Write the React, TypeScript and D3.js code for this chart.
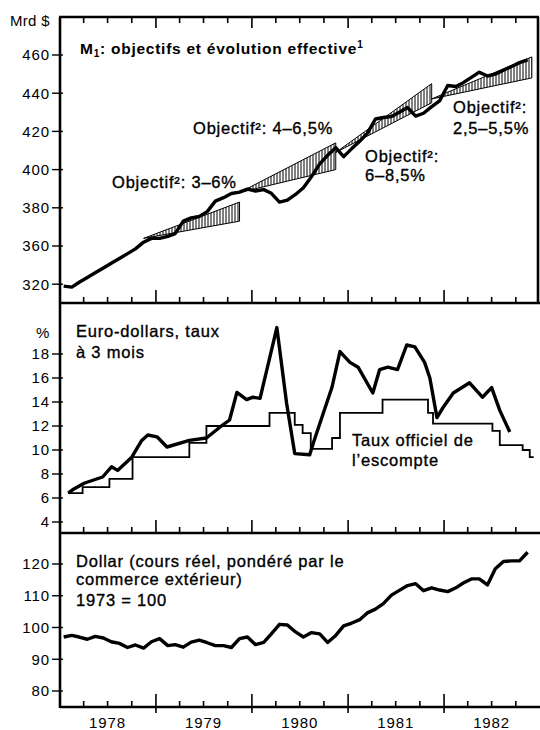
import React from "react";
import * as d3 from "d3";

// years shown under the bottom panel
const years = ["1978", "1979", "1980", "1981", "1982"];

// M1, monthly (Mrd $), first value Jan 1978
const m1Start = "1978-01-15";
const m1Values = [
  339, 338.5, 341, 343.5, 346, 348.5, 351, 353.5, 356, 358.5, 362, 364,
  364, 365, 366.5, 373, 374.7, 375.5, 378, 383.5, 385.3, 387.5, 388.2, 389.8,
  388.8, 389.5, 387.6, 383, 384, 387, 390.5, 396.4, 403, 407.5, 411.5, 406.8,
  411, 415, 419, 426.5, 427.3, 427.8, 430, 432.5, 428, 429.5, 433, 436,
  444, 443.5, 445.5, 448.3, 451, 449, 450, 452, 454, 456, 457.5,
];
const m1Ticks = [340, 360, 380, 400, 420, 440, 460];
const m1TickLabels = ["320", "360", "380", "400", "420", "440", "460"];

// target cones
const bandStarts = ["1978-11-15", "1979-11-15", "1980-11-15", "1981-11-15"];
const bandEnds = ["1979-11-15", "1980-11-15", "1981-11-15", "1982-12-01"];
const bandBase = [364, 388, 409, 437];
const bandLow = [373, 400, 435, 448];
const bandHigh = [383, 414, 445, 459];

// euro-dollar 3 month rate (%)
const euroDates = [
  "1978-02-01", "1978-02-19", "1978-04-05", "1978-06-12", "1978-07-16", "1978-08-08",
  "1978-10-01", "1978-11-08", "1978-12-01", "1979-01-05", "1979-02-12", "1979-05-08",
  "1979-07-12", "1979-09-01", "1979-10-08", "1979-11-05", "1979-12-12", "1980-01-05",
  "1980-02-01", "1980-04-05", "1980-05-12", "1980-06-12", "1980-08-08", "1980-08-22",
  "1980-11-01", "1980-12-01", "1981-01-08", "1981-02-08", "1981-04-05", "1981-05-01",
  "1981-06-01", "1981-07-08", "1981-08-12", "1981-09-12", "1981-10-19", "1981-11-08",
  "1981-12-05", "1981-12-27", "1982-02-05", "1982-04-08", "1982-05-27", "1982-07-01",
  "1982-08-01", "1982-09-08",
];
const euroValues = [
  6.4, 6.7, 7.25, 7.75, 8.6, 8.3,
  9.4, 10.8, 11.25, 11.1, 10.25, 10.8,
  11.0, 11.9, 12.5, 14.8, 14.2, 14.4,
  14.3, 20.2, 13.9, 9.7, 9.6, 10.6,
  15.25, 18.2, 17.3, 16.9, 14.75, 16.7,
  16.9, 16.7, 18.75, 18.6, 17.3, 16.0,
  12.7, 13.5, 14.75, 15.6, 14.4, 15.2,
  13.3, 11.5,
];

// official discount rate (%), step changes
const rateDates = [
  "1978-02-01", "1978-03-28", "1978-07-08", "1978-10-04", "1979-05-08", "1979-07-12",
  "1980-03-08", "1980-06-12", "1980-07-12", "1980-08-12", "1980-11-01", "1980-12-01",
  "1981-05-12", "1981-11-01", "1981-11-20", "1982-07-04", "1982-08-01", "1982-10-27",
  "1982-11-23", "1982-12-08",
];
const rateValues = [
  6.4, 6.9, 7.6, 9.4, 10.6, 12.0,
  13.1, 12.1, 11.4, 10.1, 11.0, 13.1,
  14.2, 13.1, 12.2, 11.6, 10.4, 10.0,
  9.4, 9.4,
];
const rateTicks = [4, 6, 8, 10, 12, 14, 16, 18];

// dollar, real trade weighted, 1973 = 100, monthly
const dollarStart = "1978-01-15";
const dollarValues = [
  97.0, 97.5, 97.0, 96.3, 97.2, 96.7, 95.5, 95.0, 93.7, 94.5, 93.5, 95.5,
  96.5, 94.3, 94.6, 93.8, 95.4, 96.0, 95.2, 94.3, 94.3, 93.7, 96.5, 97.0,
  94.6, 95.3, 98.0, 101.0, 100.8, 98.6, 97.0, 98.4, 98.0, 95.3, 97.5, 100.5,
  101.4, 102.5, 104.6, 105.8, 107.5, 110.2, 111.7, 113.2, 113.8, 111.6, 112.5, 111.8,
  111.3, 112.5, 114.0, 115.3, 115.3, 113.4, 118.5, 120.8, 121.0, 121.0, 123.7,
];
const dollarTicks = [80, 90, 100, 110, 120];

const parse = d3.timeParse("%Y-%m-%d");
const monthly = (start: string, vals: number[]) =>
  vals.map((v, i) => ({ d: d3.timeMonth.offset(parse(start)!, i), v }));

const W = 540;
const H = 730;
const left = 60;
const FONT = "'Liberation Sans', Arial, sans-serif";

const x = d3
  .scaleTime()
  .domain([parse("1978-01-01")!, parse("1983-01-01")!])
  .range([left, 540]);

const p1 = { top: 17, bottom: 303 };
const p2 = { top: 303, bottom: 533 };
const p3 = { top: 533, bottom: 707 };

const y1 = d3.scaleLinear().domain([360, 460]).range([246, 55]);
const y2 = d3.scaleLinear().domain([4, 18]).range([522, 354]);
const y3 = d3.scaleLinear().domain([80, 120]).range([691, 564]);

const quarterTicks = d3
  .timeMonth.every(3)!
  .range(parse("1978-02-01")!, parse("1982-12-31")!);
const isYear = (d: Date) => d.getMonth() === 0;

function BottomTicks({ y, below = 0 }: { y: number; below?: number }) {
  return (
    <g stroke="#000" strokeWidth={1.6}>
      {quarterTicks.map((d, i) => (
        <line
          key={i}
          x1={x(d)}
          x2={x(d)}
          y1={y + (isYear(d) ? below : 0)}
          y2={y - (isYear(d) ? 13 : 6)}
        />
      ))}
    </g>
  );
}

function YAxis({
  scale,
  ticks,
  labels,
}: {
  scale: d3.ScaleLinear<number, number>;
  ticks: number[];
  labels?: string[];
}) {
  return (
    <g>
      {ticks.map((t, i) => (
        <g key={t}>
          <line x1={52} x2={63} y1={scale(t)} y2={scale(t)} stroke="#000" strokeWidth={1.4} />
          <text
            x={50}
            y={scale(t)}
            dy="0.36em"
            textAnchor="end"
            fontSize={15}
            letterSpacing={0.9}
            fontFamily={FONT}
          >
            {labels ? labels[i] : String(t)}
          </text>
        </g>
      ))}
    </g>
  );
}

const label = {
  fontFamily: FONT,
  fontSize: 16.5,
  letterSpacing: 0.8,
  stroke: "#000",
  strokeWidth: 0.35,
} as const;

export default function App() {
  const m1 = monthly(m1Start, m1Values);
  const dollar = monthly(dollarStart, dollarValues);
  const euro = euroDates.map((s, i) => ({ d: parse(s)!, v: euroValues[i] }));
  const rate = rateDates.map((s, i) => ({ d: parse(s)!, v: rateValues[i] }));

  const lineM1 = d3.line<{ d: Date; v: number }>().x((p) => x(p.d)).y((p) => y1(p.v));
  const lineEuro = d3.line<{ d: Date; v: number }>().x((p) => x(p.d)).y((p) => y2(p.v));
  const lineRate = d3
    .line<{ d: Date; v: number }>()
    .x((p) => x(p.d))
    .y((p) => y2(p.v))
    .curve(d3.curveStepAfter);
  const lineDollar = d3.line<{ d: Date; v: number }>().x((p) => x(p.d)).y((p) => y3(p.v));

  const bands = bandStarts.map((s, i) => {
    const xs = x(parse(s)!);
    const xe = x(parse(bandEnds[i])!);
    return `M${xs},${y1(bandBase[i])}L${xe},${y1(bandHigh[i])}L${xe},${y1(bandLow[i])}Z`;
  });

  return (
    <div style={{ position: "absolute", left: 0, top: 0 }}>
      <svg width={W} height={H} style={{ display: "block", background: "#fff" }}>
        <defs>
          <pattern id="hatch" width={3} height={6} patternUnits="userSpaceOnUse">
            <line x1={1} x2={1} y1={0} y2={6} stroke="#000" strokeWidth={1} />
          </pattern>
        </defs>

        {/* frames */}
        <g stroke="#000" strokeWidth={2.6} fill="none">
          <line x1={left} x2={left} y1={p1.top} y2={p3.bottom + 1} />
          <line x1={left - 1} x2={539} y1={p1.top} y2={p1.top} />
          <line x1={538} x2={538} y1={p1.top} y2={p1.bottom} />
          <line x1={left} x2={540} y1={p1.bottom} y2={p1.bottom} />
          <line x1={left} x2={540} y1={p2.bottom} y2={p2.bottom} />
          <line x1={left} x2={540} y1={p3.bottom} y2={p3.bottom} />
        </g>

        {/* top ticks of first panel */}
        <g stroke="#000" strokeWidth={1.6}>
          {quarterTicks.map((d, i) => (
            <line key={i} x1={x(d)} x2={x(d)} y1={p1.top} y2={p1.top + (isYear(d) ? 11 : 6)} />
          ))}
        </g>
        <BottomTicks y={p1.bottom} />
        <BottomTicks y={p2.bottom} />
        <BottomTicks y={p3.bottom} below={6} />

        {/* panel 1 */}
        <text x={10} y={26} fontSize={15} fontFamily={FONT} letterSpacing={0.3}>
          Mrd $
        </text>
        <YAxis scale={y1} ticks={m1Ticks} labels={m1TickLabels} />
        {bands.map((b, i) => (
          <path key={i} d={b} fill="url(#hatch)" stroke="#000" strokeWidth={1} />
        ))}
        <path
          d={lineM1(m1)!}
          fill="none"
          stroke="#000"
          strokeWidth={3.4}
          strokeLinejoin="round"
        />
        <text x={80} y={54} fontFamily={FONT} fontSize={15.5} fontWeight="bold" letterSpacing={0.75}>
          M
          <tspan fontSize={10} dy={3}>1</tspan>
          <tspan dy={-3}>: objectifs et évolution effective</tspan>
          <tspan fontSize={10} dy={-6}>1</tspan>
        </text>
        <text x={112} y={188} {...label}>Objectif²: 3–6%</text>
        <text x={193} y={134} {...label}>Objectif²: 4–6,5%</text>
        <text x={365} y={162} {...label}>Objectif²:</text>
        <text x={365} y={181} {...label}>6–8,5%</text>
        <text x={453} y={113} {...label}>Objectif²:</text>
        <text x={453} y={134} {...label}>2,5–5,5%</text>

        {/* panel 2 */}
        <text x={36} y={338} fontSize={15} fontFamily={FONT}>%</text>
        <YAxis scale={y2} ticks={rateTicks} />
        <path d={lineRate(rate)!} fill="none" stroke="#000" strokeWidth={1.8} />
        <path
          d={lineEuro(euro)!}
          fill="none"
          stroke="#000"
          strokeWidth={3.4}
          strokeLinejoin="round"
        />
        <text x={76} y={337} {...label}>Euro-dollars, taux</text>
        <text x={76} y={358} {...label}>à 3 mois</text>
        <text x={352} y={446} {...label}>Taux officiel de</text>
        <text x={352} y={466} {...label}>l’escompte</text>

        {/* panel 3 */}
        <YAxis scale={y3} ticks={dollarTicks} />
        <path
          d={lineDollar(dollar)!}
          fill="none"
          stroke="#000"
          strokeWidth={3.4}
          strokeLinejoin="round"
        />
        <text x={76} y={567} {...label}>Dollar (cours réel, pondéré par le</text>
        <text x={76} y={585} {...label}>commerce extérieur)</text>
        <text x={76} y={606} {...label}>1973 = 100</text>

        {/* years */}
        {years.map((yr) => (
          <text
            key={yr}
            x={x(parse(`${yr}-07-01`)!)}
            y={728}
            textAnchor="middle"
            fontSize={15}
            letterSpacing={0.9}
            fontFamily={FONT}
          >
            {yr}
          </text>
        ))}
      </svg>
    </div>
  );
}
